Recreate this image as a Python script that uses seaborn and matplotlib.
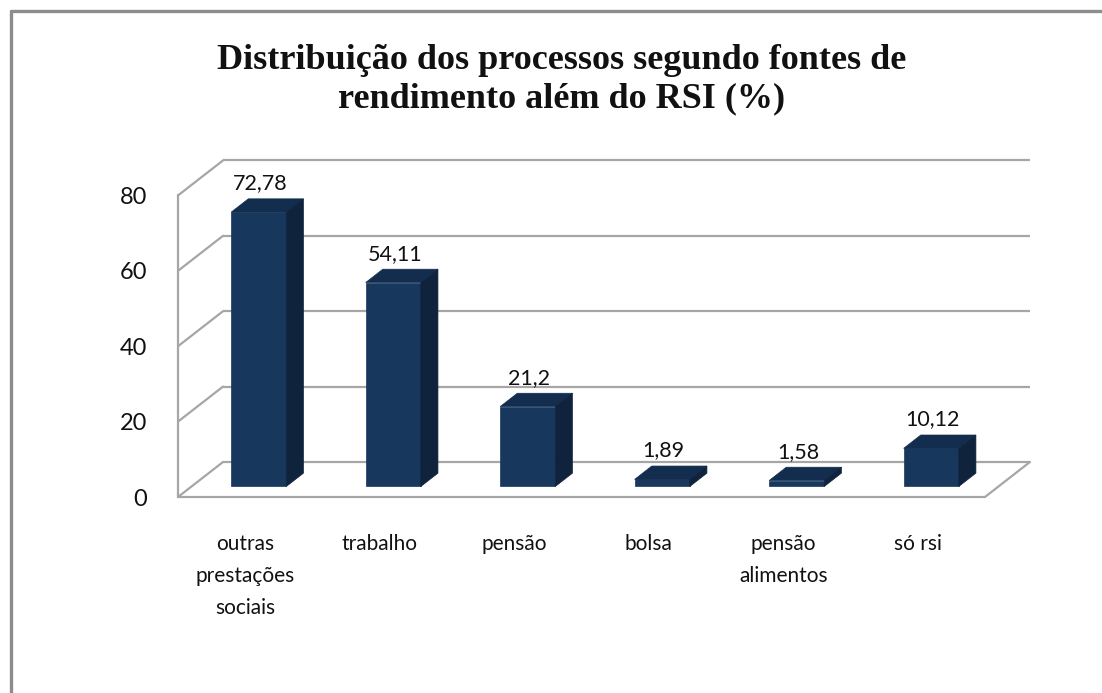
import pandas as pd
import matplotlib.pyplot as plt
import seaborn as sns
from matplotlib.patches import Polygon
from matplotlib.lines import Line2D

# data
categories = ['outras\nprestações\nsociais', 'trabalho', 'pensão', 'bolsa',
              'pensão\nalimentos', 'só rsi']
values = [72.78, 54.11, 21.2, 1.89, 1.58, 10.12]
yticks = [0, 20, 40, 60, 80]
title = 'Distribuição dos processos segundo fontes de\nrendimento além do RSI (%)'

# colours
FRONT = '#18375d'
SIDE = '#0f233d'
TOP = '#132d4e'
GRID = '#a6a6a6'

# oblique "3D" depth, in data units
DX = 0.335      # depth offset along x (categories)
DY = 9.3        # depth offset along y (value units)
F0, F1 = 0.30, 0.68   # bar depth span inside the floor
BAR_W = 0.41

sns.set_theme(style="white")
plt.rcParams['font.family'] = ['Lato', 'DejaVu Sans']

df = pd.DataFrame({'fonte': categories, 'pct': values})

fig = plt.figure(figsize=(11.02, 6.93), dpi=100)
ax = fig.add_axes([178 / 1102, 196 / 693, 852 / 1102, 336.6 / 693])

# back wall + left wall grid
for v in yticks:
    ax.plot([-0.5 + DX, 5.5 + DX], [v + DY, v + DY], color=GRID, lw=1.6,
            zorder=0, clip_on=False, solid_capstyle='butt')
    ax.plot([-0.5, -0.5 + DX], [v, v + DY], color=GRID, lw=1.6,
            zorder=0, clip_on=False)
ax.plot([-0.5, -0.5], [0, yticks[-1]], color=GRID, lw=1.6, zorder=0, clip_on=False)
# floor edges
ax.plot([-0.5, 5.5], [0, 0], color=GRID, lw=1.6, zorder=0, clip_on=False)
ax.plot([5.5, 5.5 + DX], [0, DY], color=GRID, lw=1.6, zorder=0, clip_on=False)

sns.barplot(data=df, x='fonte', y='pct', color=FRONT, width=BAR_W,
            saturation=1, ax=ax, zorder=3)

dd = F1 - F0
for p, v in zip(ax.patches, values):
    x0 = p.get_x() + F0 * DX
    w = p.get_width()
    h = p.get_height()
    p.set_x(x0)
    p.set_y(F0 * DY)
    p.set_edgecolor(FRONT)
    p.set_linewidth(0.5)
    yb = F0 * DY
    top = Polygon([(x0, yb + h), (x0 + w, yb + h),
                   (x0 + w + dd * DX, yb + h + dd * DY), (x0 + dd * DX, yb + h + dd * DY)],
                  closed=True, facecolor=TOP, edgecolor=TOP, lw=0.5, zorder=3)
    side = Polygon([(x0 + w, yb), (x0 + w + dd * DX, yb + dd * DY),
                    (x0 + w + dd * DX, yb + h + dd * DY), (x0 + w, yb + h)],
                   closed=True, facecolor=SIDE, edgecolor=SIDE, lw=0.5, zorder=3)
    ax.add_patch(top)
    ax.add_patch(side)
    ax.annotate(str(v).replace('.', ','), (x0 + w / 2 + 0.01, yb + h + dd * DY),
                xytext=(0, 4), textcoords='offset points', ha='center', va='bottom',
                fontsize=15.5, color='#111111', zorder=4)

ax.set_xlim(-0.5, 5.5 + DX)
ax.set_ylim(0, 80 + DY)
ax.set_yticks(yticks)
ax.set_yticklabels([str(t) for t in yticks])
ax.set_xticks(range(len(categories)))
ax.set_xticklabels(categories)
ax.tick_params(axis='y', length=0, pad=22, labelsize=17, labelcolor='#111111')
ax.tick_params(axis='x', length=0, pad=27, labelsize=15, labelcolor='#111111')
for lbl in ax.get_xticklabels():
    lbl.set_linespacing(1.75)
ax.set_xlabel('')
ax.set_ylabel('')
for s in ax.spines.values():
    s.set_visible(False)
ax.set_facecolor('none')

fig.text(0.51, 1 - 44 / 693, title, ha='center', va='top', fontsize=26,
         fontweight='bold', family=['Liberation Serif', 'DejaVu Serif'],
         linespacing=1.22, color='#111111')

# outer chart-area border (left and top only visible)
fig.add_artist(Line2D([10.5 / 1102, 10.5 / 1102], [0, 1 - 10.5 / 693],
                      color='#8c8c8c', lw=2.4, transform=fig.transFigure))
fig.add_artist(Line2D([10.5 / 1102, 1], [1 - 10.5 / 693, 1 - 10.5 / 693],
                      color='#8c8c8c', lw=2.4, transform=fig.transFigure))

fig.savefig('out.png', dpi=100, facecolor='white')
